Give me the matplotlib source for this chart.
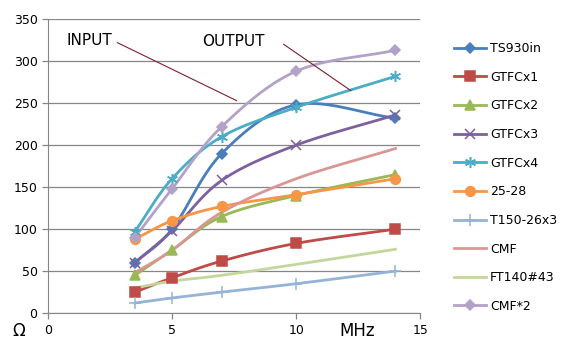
import numpy as np
import matplotlib
matplotlib.use("Agg")
import matplotlib.pyplot as plt

# frequencies (MHz)
freqs = [3.5, 5, 7, 10, 14]

names = ["TS930in", "GTFCx1", "GTFCx2", "GTFCx3", "GTFCx4",
         "25-28", "T150-26x3", "CMF", "FT140#43", "CMF*2"]

ts930in = [60, 100, 190, 248, 232]
gtfc_x1 = [25, 42, 62, 83, 100]
gtfc_x2 = [45, 75, 115, 140, 165]
gtfc_x3 = [60, 98, 158, 200, 236]
gtfc_x4 = [97, 160, 210, 245, 282]
mix_25_28 = [88, 110, 127, 141, 160]
t150_26x3 = [12, 18, 25, 35, 50]
cmf = [48, 75, 120, 160, 196]
ft140_43 = [30, 38, 45, 58, 76]
cmf_x2 = [90, 148, 222, 288, 313]

series = [ts930in, gtfc_x1, gtfc_x2, gtfc_x3, gtfc_x4,
          mix_25_28, t150_26x3, cmf, ft140_43, cmf_x2]

colors = ["#4A7EBB", "#BE4B48", "#98B954", "#7D60A0", "#4BACC6",
          "#F79646", "#95B3D7", "#D99694", "#C3D69B", "#B3A2C7"]
markers = ["D", "s", "^", "x", (6, 2, 0), "o", "+", None, None, "D"]
msizes = [5.5, 6.5, 6.5, 7, 8, 7, 8, 0, 0, 5.5]


def smooth(xs, ys, n=20):
    # catmull-rom style spline, similar to Excel's smoothed line
    xs = np.asarray(xs, float)
    ys = np.asarray(ys, float)
    px = np.concatenate([[2 * xs[0] - xs[1]], xs, [2 * xs[-1] - xs[-2]]])
    py = np.concatenate([[2 * ys[0] - ys[1]], ys, [2 * ys[-1] - ys[-2]]])
    out_x, out_y = [], []
    for i in range(1, len(px) - 2):
        t = np.linspace(0, 1, n)
        for p, out in ((px, out_x), (py, out_y)):
            p0, p1, p2, p3 = p[i - 1], p[i], p[i + 1], p[i + 2]
            m1 = (p2 - p0) / 6
            m2 = (p3 - p1) / 6
            c1 = p1 + m1
            c2 = p2 - m2
            out.extend((1 - t) ** 3 * p1 + 3 * (1 - t) ** 2 * t * c1
                       + 3 * (1 - t) * t ** 2 * c2 + t ** 3 * p2)
    return out_x, out_y


plt.rcParams['font.family'] = ['DejaVu Sans']
fig = plt.figure(figsize=(5.71, 3.55), dpi=100)
ax = fig.add_axes([0.084, 0.118, 0.652, 0.828])

handles = []
for name, ys, c, m, ms in zip(names, series, colors, markers, msizes):
    sx, sy = smooth(freqs, ys)
    ax.plot(sx, sy, color=c, lw=2.0, zorder=2)
    if m is not None:
        ax.plot(freqs, ys, ls="none", marker=m, ms=ms, color=c,
                mec=c, mew=1.1, zorder=3)
    h, = ax.plot([], [], color=c, lw=2.0, marker=m, ms=ms, mec=c,
                 mew=1.1, label=name)
    handles.append(h)

ax.set_xlim(0, 15)
ax.set_ylim(0, 350)
ax.set_xticks([0, 5, 10, 15])
ax.set_yticks(range(0, 351, 50))
ax.yaxis.grid(True, color="#868686", lw=0.9)
ax.set_axisbelow(True)
for s in ("top", "right"):
    ax.spines[s].set_visible(False)
for s in ("left", "bottom"):
    ax.spines[s].set_color("#868686")
ax.tick_params(colors="#868686", labelcolor="black", labelsize=9,
               length=4, width=0.9)

# annotations
ax.text(0.75, 325, "INPUT", fontsize=11, ha="left", va="center")
ax.plot([2.8, 7.6], [322, 253], color="#7B1F2E", lw=0.8)
ax.text(6.2, 324, "OUTPUT", fontsize=11, ha="left", va="center")
ax.plot([9.5, 12.2], [320, 265], color="#7B1F2E", lw=0.8)
fig.text(0.022, 0.068, "Ω", fontsize=12, ha="left", va="center")
fig.text(0.595, 0.068, "MHz", fontsize=12, ha="left", va="center")

fig.legend(handles=handles, loc="upper left",
           bbox_to_anchor=(0.775, 0.913), frameon=False, fontsize=9,
           handlelength=2.6, labelspacing=1.25, handletextpad=0.3)

fig.savefig("out.png", dpi=100)
